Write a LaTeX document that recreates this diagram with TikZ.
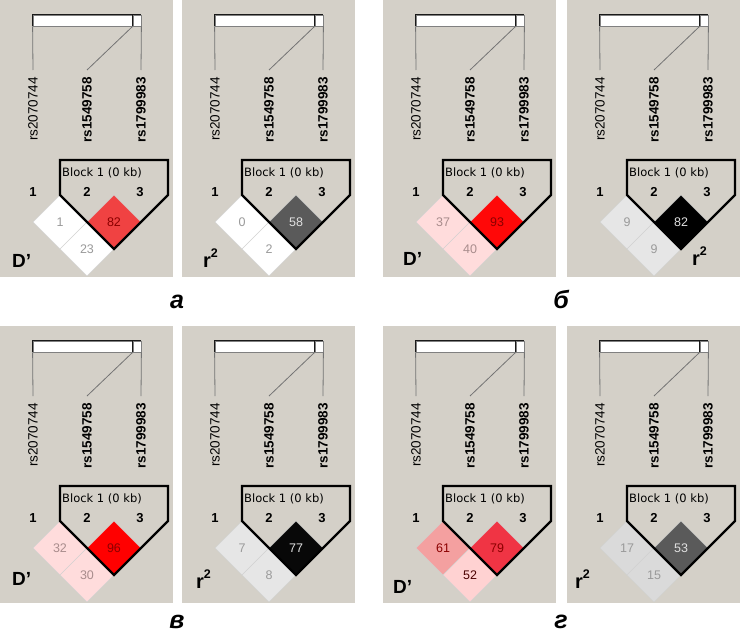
\documentclass[tikz,border=0pt]{standalone}
\usepackage{fontspec}
\setmainfont{Liberation Sans}
\newfontfamily\blockfont{DejaVu Sans}
\usetikzlibrary{shapes.geometric}
\definecolor{bgc}{HTML}{D4D0C8}
\definecolor{redA}{HTML}{F04242}
\definecolor{redB}{HTML}{FF0808}
\definecolor{redC}{HTML}{FF0000}
\definecolor{redD}{HTML}{F03444}
\definecolor{pinkL}{HTML}{FFDCDC}
\definecolor{pinkM}{HTML}{F4A0A0}
\definecolor{pinkN}{HTML}{FFD2D2}
\definecolor{grayL}{HTML}{E6E6E6}
\definecolor{grayM}{HTML}{DADADA}
\definecolor{grayD}{HTML}{5A5A5A}
\definecolor{txtG}{HTML}{9A9A9A}
\definecolor{txtP}{HTML}{A88C8C}
\definecolor{txtR}{HTML}{8B0000}
\definecolor{txtK}{HTML}{4A0000}
\definecolor{txtW}{HTML}{E0E0E0}
\tikzset{
  barbox/.style={draw=black!50, fill=white, line width=0.8pt, inner sep=0pt, minimum height=11pt},
  baredge/.style={draw=black!90, line width=1pt},
  tick/.style={draw=black!55, line width=0.8pt},
  snp/.style={rotate=90, anchor=east, inner sep=0pt, outer sep=0pt, font=\fontsize{13.5}{13.5}\selectfont},
  snpb/.style={rotate=90, anchor=east, inner sep=0pt, outer sep=0pt, font=\fontsize{13.5}{13.5}\selectfont\bfseries},
  idx/.style={inner sep=0pt, font=\fontsize{13}{13}\selectfont\bfseries},
  blk/.style={inner sep=0pt, font=\blockfont\fontsize{11.5}{11.5}\selectfont},
  cell/.style={diamond, minimum width=54pt, minimum height=54pt, inner sep=0pt, draw=black!18, line width=0.4pt, font=\fontsize{12.5}{12.5}\selectfont},
  blockline/.style={draw=black, line width=2.2pt, line join=miter},
  measure/.style={anchor=base west, inner sep=0pt, font=\fontsize{19}{19}\selectfont\bfseries},
  panellabel/.style={anchor=base, inner sep=0pt, font=\fontsize{25}{25}\selectfont\bfseries\itshape},
}
\newcommand{\ldframe}[1]{%
  \fill[bgc] (0,0) rectangle (173,277);
  \node[barbox, minimum width=100pt] (#1bar) at (83,20.5) {};
  \node[barbox, minimum width=8pt] (#1bx) at (137,20.5) {};
  \draw[baredge] (#1bar.south west) -- (#1bar.north west) -- (#1bar.north east);
  \draw[baredge] (#1bx.south west) -- (#1bx.north west) -- (#1bx.north east);
  \node[snp] (#1s1) at (33,77) {rs2070744};
  \node[snpb] (#1s2) at (87,77) {rs1549758};
  \node[snpb] (#1s3) at (141,77) {rs1799983};
  \draw[tick] (#1bar.south west) -- ([yshift=7pt]#1s1.east);
  \draw[tick] (#1bx.south west) -- ([yshift=7pt]#1s2.east);
  \draw[tick] (#1bx.south east) -- ([yshift=7pt]#1s3.east);
  \node[idx] (#1n1) at (33,192) {1};
  \node[idx] (#1n2) at (87,192) {2};
  \node[idx] (#1n3) at (140,192) {3};
  \node[blk] (#1blk) at (102,173) {Block 1 (0 kb)};
}
\newcommand{\ldcell}[6]{\node[cell, fill=#4, text=#5] (#1) at (#2,#3) {#6};}
\newcommand{\ldblock}{\draw[blockline] (60,160) -- (60,195) -- (114,249) -- (168,195) -- (168,160) -- cycle;}
\newcommand{\rsq}{{\fontsize{20}{20}\selectfont r\raisebox{10pt}{\fontsize{12.5}{12.5}\selectfont 2}}}
\begin{document}
\begin{tikzpicture}[x=1pt, y=-1pt]
\fill[white] (0,0) rectangle (740,637);
\useasboundingbox (0,0) rectangle (740,637);
% a, D'
\begin{scope}[shift={(0,0)}]
  \ldframe{pA}
  \ldcell{pAc12}{60}{222}{white}{txtG}{1}
  \ldcell{pAc23}{114}{222}{redA}{txtR}{82}
  \ldcell{pAc13}{87}{249}{white}{txtG}{23}
  \ldblock
  \node[measure] (pAm) at (12,267) {D’};
\end{scope}
% a, r2
\begin{scope}[shift={(182,0)}]
  \ldframe{pB}
  \ldcell{pBc12}{60}{222}{white}{txtG}{0}
  \ldcell{pBc23}{114}{222}{grayD}{txtW}{58}
  \ldcell{pBc13}{87}{249}{white}{txtG}{2}
  \ldblock
  \node[measure] (pBm) at (21,267) {\rsq};
\end{scope}
% b, D'
\begin{scope}[shift={(383,0)}]
  \ldframe{pC}
  \ldcell{pCc12}{60}{222}{pinkL}{txtP}{37}
  \ldcell{pCc23}{114}{222}{redB}{txtR}{93}
  \ldcell{pCc13}{87}{249}{pinkL}{txtP}{40}
  \ldblock
  \node[measure] (pCm) at (20,265) {D’};
\end{scope}
% b, r2
\begin{scope}[shift={(567,0)}]
  \ldframe{pD}
  \ldcell{pDc12}{60}{222}{grayL}{txtG}{9}
  \ldcell{pDc23}{114}{222}{black}{txtW}{82}
  \ldcell{pDc13}{87}{249}{grayL}{txtG}{9}
  \ldblock
  \node[measure] (pDm) at (125,265) {\rsq};
\end{scope}
% v, D'
\begin{scope}[shift={(0,326)}]
  \ldframe{pE}
  \ldcell{pEc12}{60}{222}{pinkL}{txtP}{32}
  \ldcell{pEc23}{114}{222}{redC}{txtR}{96}
  \ldcell{pEc13}{87}{249}{pinkL}{txtP}{30}
  \ldblock
  \node[measure] (pEm) at (12,259) {D’};
\end{scope}
% v, r2
\begin{scope}[shift={(182,326)}]
  \ldframe{pF}
  \ldcell{pFc12}{60}{222}{grayL}{txtG}{7}
  \ldcell{pFc23}{114}{222}{black!97}{txtW}{77}
  \ldcell{pFc13}{87}{249}{grayL}{txtG}{8}
  \ldblock
  \node[measure] (pFm) at (14,262) {\rsq};
\end{scope}
% g, D'
\begin{scope}[shift={(383,326)}]
  \ldframe{pG}
  \ldcell{pGc12}{60}{222}{pinkM}{txtR}{61}
  \ldcell{pGc23}{114}{222}{redD}{txtR}{79}
  \ldcell{pGc13}{87}{249}{pinkN}{txtK}{52}
  \ldblock
  \node[measure] (pGm) at (10,267) {D’};
\end{scope}
% g, r2
\begin{scope}[shift={(567,326)}]
  \ldframe{pH}
  \ldcell{pHc12}{60}{222}{grayM}{txtG}{17}
  \ldcell{pHc23}{114}{222}{grayD}{txtW}{53}
  \ldcell{pHc13}{87}{249}{grayM}{txtG}{15}
  \ldblock
  \node[measure] (pHm) at (8,262) {\rsq};
\end{scope}
\node[panellabel] (labA) at (177,308) {а};
\node[panellabel] (labB) at (561,308) {б};
\node[panellabel] (labV) at (177,628) {в};
\node[panellabel] (labG) at (561,628) {г};
\end{tikzpicture}
\end{document}
